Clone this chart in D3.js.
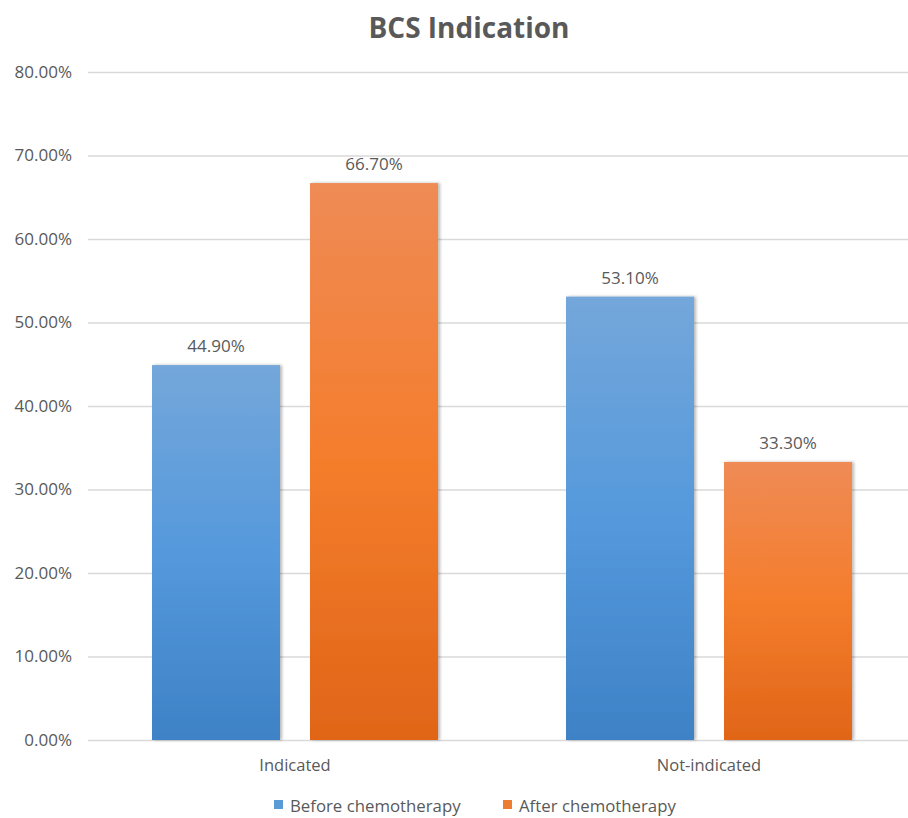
<!DOCTYPE html>
<html>
<head>
<meta charset="utf-8">
<script src="https://cdn.jsdelivr.net/npm/d3@7"></script>
<style>
  body { margin: 0; background: #fff; }
  svg { display: block; font-family: "Open Sans", sans-serif; }
</style>
</head>
<body>
<div id="chart"></div>
<script>
// Chart data
const categories = ["Indicated", "Not-indicated"];
const seriesNames = ["Before chemotherapy", "After chemotherapy"];
const beforeValues = [0.449, 0.531];
const afterValues = [0.667, 0.333];
const yTicks = [0, 0.1, 0.2, 0.3, 0.4, 0.5, 0.6, 0.7, 0.8];

function drawChart() {
    const W = 908, H = 818;
    const plot = {left: 88, right: 916, top: 72, bottom: 740};

    const svg = d3.select("#chart").append("svg")
        .attr("width", W)
        .attr("height", H);

    // gradients for the bars, light at top and darker at the bottom
    const defs = svg.append("defs");
    const grads = [
        {id: "g-before", stops: ["#74a7da", "#5599dc", "#3e82c6"]},
        {id: "g-after", stops: ["#ef8b56", "#f47d2c", "#e06518"]}
    ];
    grads.forEach(g => {
        const lg = defs.append("linearGradient")
            .attr("id", g.id)
            .attr("x1", 0).attr("y1", 0).attr("x2", 0).attr("y2", 1);
        lg.append("stop").attr("offset", "0%").attr("stop-color", g.stops[0]);
        lg.append("stop").attr("offset", "50%").attr("stop-color", g.stops[1]);
        lg.append("stop").attr("offset", "100%").attr("stop-color", g.stops[2]);
    });
    defs.append("filter")
        .attr("id", "shadow")
        .attr("x", "-10%").attr("y", "-10%").attr("width", "130%").attr("height", "120%")
        .append("feDropShadow")
        .attr("dx", 2).attr("dy", 0)
        .attr("stdDeviation", 1.8)
        .attr("flood-color", "#000")
        .attr("flood-opacity", 0.28);

    // scales
    const x0 = d3.scaleBand()
        .domain(categories)
        .range([plot.left, plot.right])
        .padding(0);

    const x1 = d3.scaleBand()
        .domain(seriesNames)
        .range([0, x0.bandwidth()])
        .paddingInner(0.19)
        .paddingOuter(0.405);

    const y = d3.scaleLinear()
        .domain([0, 0.8])
        .range([plot.bottom, plot.top]);

    const fmt = d3.format(".2%");
    const colors = {"Before chemotherapy": "#5b9bd5", "After chemotherapy": "#ed7d31"};
    const fills = {"Before chemotherapy": "url(#g-before)", "After chemotherapy": "url(#g-after)"};

    // title
    svg.append("text")
        .attr("x", 469)
        .attr("y", 38)
        .attr("text-anchor", "middle")
        .style("font-size", "28px")
        .style("font-weight", "bold")
        .style("fill", "#595959")
        .text("BCS Indication");

    // y axis with gridlines
    const yAxis = svg.append("g")
        .attr("transform", `translate(${plot.left},0)`)
        .call(d3.axisLeft(y)
            .tickValues(yTicks)
            .tickSize(-(plot.right - plot.left))
            .tickPadding(16)
            .tickFormat(fmt));
    yAxis.select(".domain").remove();
    yAxis.selectAll(".tick line")
        .attr("stroke", "#d9d9d9")
        .attr("stroke-width", 1.5);
    yAxis.selectAll(".tick text")
        .style("font-size", "17px")
        .style("font-family", "'Open Sans', sans-serif")
        .attr("fill", "#595959");

    // x axis labels
    const xAxis = svg.append("g")
        .attr("transform", `translate(0,${plot.bottom})`)
        .call(d3.axisBottom(x0).tickSize(0).tickPadding(19));
    xAxis.select(".domain").remove();
    xAxis.selectAll(".tick text")
        .style("font-size", "16.5px")
        .style("font-family", "'Open Sans', sans-serif")
        .attr("fill", "#595959");

    // bars
    const rows = categories.map((c, i) => ({
        category: c,
        values: [
            {series: seriesNames[0], value: beforeValues[i]},
            {series: seriesNames[1], value: afterValues[i]}
        ]
    }));

    const groups = svg.selectAll(".group")
        .data(rows)
        .enter()
        .append("g")
        .attr("class", "group")
        .attr("transform", d => `translate(${x0(d.category)},0)`);

    groups.selectAll("rect")
        .data(d => d.values)
        .enter()
        .append("rect")
        .attr("x", d => x1(d.series))
        .attr("y", d => y(d.value))
        .attr("width", x1.bandwidth())
        .attr("height", d => y(0) - y(d.value))
        .attr("fill", d => fills[d.series])
        .attr("filter", "url(#shadow)");

    // value labels
    groups.selectAll(".label")
        .data(d => d.values)
        .enter()
        .append("text")
        .attr("class", "label")
        .attr("x", d => x1(d.series) + x1.bandwidth() / 2)
        .attr("y", d => y(d.value) - 13)
        .attr("text-anchor", "middle")
        .style("font-size", "17px")
        .style("fill", "#595959")
        .text(d => fmt(d.value));

    // legend
    const legend = svg.append("g").attr("transform", "translate(274,812)");
    const legendX = [0, 229];
    seriesNames.forEach((s, i) => {
        legend.append("rect")
            .attr("x", legendX[i])
            .attr("y", -12)
            .attr("width", 9)
            .attr("height", 9)
            .attr("fill", colors[s]);
        legend.append("text")
            .attr("x", legendX[i] + 16)
            .attr("y", 0)
            .style("font-size", "16.8px")
            .style("fill", "#595959")
            .text(s);
    });
}

drawChart();
</script>
</body>
</html>
